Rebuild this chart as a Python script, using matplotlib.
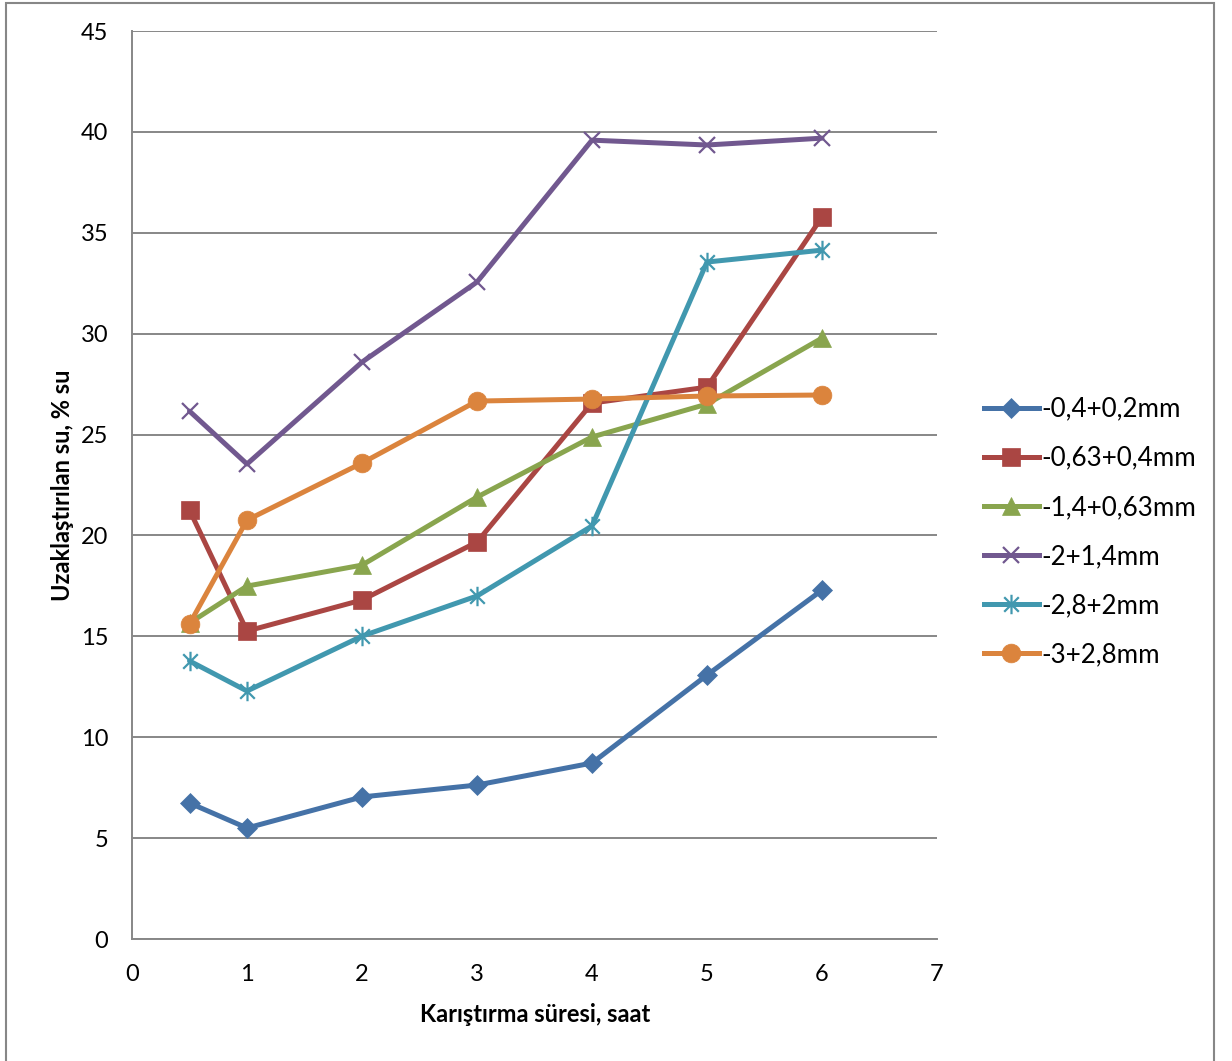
import numpy as np
import matplotlib
matplotlib.use("Agg")
import matplotlib.pyplot as plt
from matplotlib.path import Path
from matplotlib.patches import Rectangle
from matplotlib.lines import Line2D

plt.rcParams['font.family'] = ['Lato', 'DejaVu Sans']

# Mixing time (hours)
hours = [0.5, 1, 2, 3, 4, 5, 6]

# Removed water (%) for each size fraction
s_04_02 = [6.74, 5.50, 7.04, 7.63, 8.72, 13.08, 17.29]
s_063_04 = [21.26, 15.26, 16.80, 19.67, 26.56, 27.35, 35.78]
s_14_063 = [15.66, 17.49, 18.53, 21.90, 24.88, 26.51, 29.78]
s_2_14 = [26.16, 23.54, 28.59, 32.56, 39.59, 39.35, 39.69]
s_28_2 = [13.78, 12.29, 15.01, 17.00, 20.47, 33.55, 34.14]
s_3_28 = [15.61, 20.76, 23.59, 26.66, 26.76, 26.91, 26.96]

labels = ["-0,4+0,2mm", "-0,63+0,4mm", "-1,4+0,63mm",
          "-2+1,4mm", "-2,8+2mm", "-3+2,8mm"]
series = [s_04_02, s_063_04, s_14_063, s_2_14, s_28_2, s_3_28]
colors = ["#4572A7", "#AA4643", "#89A54E", "#71588F", "#4198AF", "#DB843D"]

# Asterisk marker: vertical bar plus an X
asterisk = Path([(0, -1), (0, 1), (-0.75, -0.75), (0.75, 0.75),
                 (-0.75, 0.75), (0.75, -0.75)],
                [Path.MOVETO, Path.LINETO, Path.MOVETO, Path.LINETO,
                 Path.MOVETO, Path.LINETO])
markers = ["D", "s", "^", "x", asterisk, "o"]
msizes = [10, 12.5, 12.5, 12, 14, 13.5]
line_markers = [False, False, False, True, True, False]

x_ticks = list(range(0, 8))
y_ticks = list(range(0, 50, 5))

FS = 17
LEG_FS = 18.7

fig = plt.figure(figsize=(12.32, 10.61), dpi=100)
ax = fig.add_axes([132 / 1232, 1 - 939 / 1061, (937 - 132) / 1232, (939 - 31) / 1061])

ax.set_xlim(0, 7)
ax.set_ylim(0, 45)
ax.set_xticks(x_ticks)
ax.set_yticks(y_ticks)
ax.tick_params(length=0, labelsize=FS, colors="black")
ax.tick_params(axis="y", pad=17)
ax.tick_params(axis="x", pad=18)
ax.yaxis.grid(True, color="#878787", linewidth=1.4)
ax.set_axisbelow(True)
for side in ["top", "right"]:
    ax.spines[side].set_visible(False)
for side in ["left", "bottom"]:
    ax.spines[side].set_color("#878787")
    ax.spines[side].set_linewidth(1.4)

handles = []
for ys, lab, c, m, ms, is_line in zip(series, labels, colors, markers, msizes, line_markers):
    mew = 1.6 if is_line else 0.5
    ax.plot(hours, ys, color=c, linewidth=3.6, solid_joinstyle="round",
            solid_capstyle="round", marker=m, markersize=ms,
            markeredgecolor=c, markeredgewidth=mew, zorder=3, clip_on=False)
    handles.append(Line2D([0], [0], color=c, linewidth=3.6, marker=m,
                          markersize=ms, markeredgecolor=c,
                          markeredgewidth=mew, label=lab))

fig.text(535 / 1232, 1 - 1014 / 1061, "Karıştırma süresi, saat", fontsize=FS,
         fontweight="bold", ha="center", va="center")
fig.text(62 / 1232, 1 - 485 / 1061, "Uzaklaştırılan su, % su", fontsize=FS,
         fontweight="bold", ha="center", va="center", rotation=90)

fig.legend(handles=handles, loc="center left", bbox_to_anchor=(984 / 1232, 1 - 532 / 1061),
           frameon=False, fontsize=LEG_FS, handlelength=2.1, labelspacing=0.93,
           handletextpad=0.1, borderaxespad=0, borderpad=0)

# Chart border
fig.add_artist(Rectangle((6 / 1232, -0.01), (1214 - 6) / 1232, 1 - 3 / 1061 + 0.01,
                         transform=fig.transFigure, facecolor="none",
                         edgecolor="#878787", linewidth=1.5, clip_on=False))

fig.savefig("out.png", dpi=100, facecolor="white")
